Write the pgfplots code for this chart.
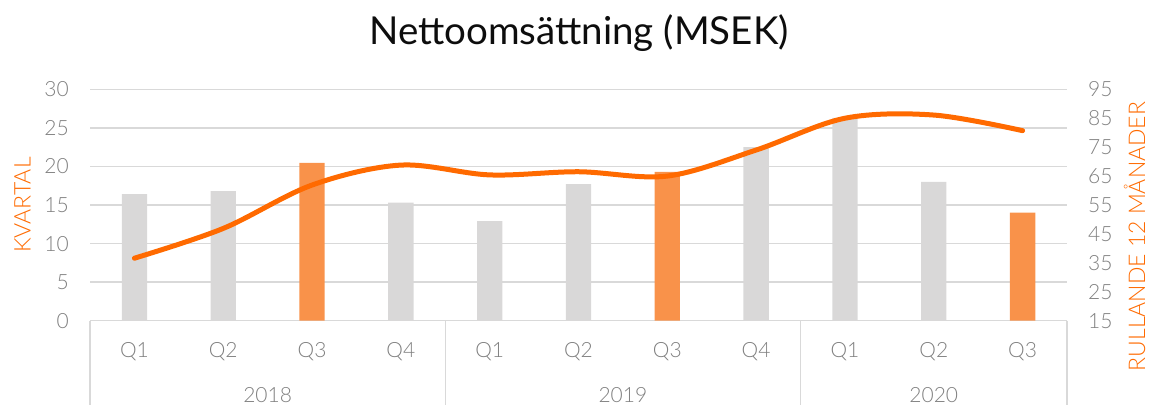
\documentclass[border=0pt]{standalone}
\usepackage{pgfplots}
\pgfplotsset{compat=1.18}
\usepackage{fontspec}
\setmainfont{Lato}
\newfontfamily\lightfont{Lato Light}
\definecolor{gridgrey}{HTML}{D9D9D9}
\definecolor{bargrey}{HTML}{D9D8D8}
\definecolor{barorange}{HTML}{F9924A}
\definecolor{lineorange}{HTML}{FF6A00}
\definecolor{ticktext}{HTML}{7F7F7F}
\begin{document}
\begin{tikzpicture}
\useasboundingbox (0,0) rectangle (1149pt,405pt);
\begin{axis}[
  at={(90pt,84.3pt)}, anchor=south west,
  scale only axis, width=977pt, height=231.4pt,
  xmin=-0.5, xmax=10.5, ymin=0, ymax=30,
  ytick={0,5,10,15,20,25,30},
  xtick={0,1,2,3,4,5,6,7,8,9,10},
  xticklabels={Q1,Q2,Q3,Q4,Q1,Q2,Q3,Q4,Q1,Q2,Q3},
  major tick length=0pt,
  ymajorgrids, grid style={gridgrey, line width=1.4pt},
  axis x line*=bottom, axis y line*=left,
  x axis line style={gridgrey, line width=1.4pt, -},
  y axis line style={draw=none},
  /pgf/number format/assume math mode=true,
  tick label style={font=\lightfont\fontsize{21}{21}\selectfont, text=ticktext},
  yticklabel style={anchor=east, inner sep=0pt, xshift=-21pt},
  xticklabel style={anchor=center, inner sep=0pt, yshift=-31pt},
  ybar, bar width=25.3pt, bar shift=0pt,
  clip=false,
]
\addplot[fill=bargrey, draw=none] coordinates {(0,16.4) (1,16.8) (3,15.3) (4,12.9) (5,17.7) (7,22.5) (8,26.3) (9,18.0)};
\addplot[fill=barorange, draw=none] coordinates {(2,20.45) (6,19.3) (10,14.0)};
\foreach \s in {-0.5,3.5,7.5,10.5} {
  \edef\tmp{\noexpand\draw[gridgrey, line width=1.4pt] (axis cs:\s,0) -- ([yshift=-84.3pt]axis cs:\s,0);}
  \tmp
}
\node[font=\lightfont\fontsize{21}{21}\selectfont, text=ticktext] at ([yshift=-74.3pt]axis cs:1.5,0) {2018};
\node[font=\lightfont\fontsize{21}{21}\selectfont, text=ticktext] at ([yshift=-74.3pt]axis cs:5.5,0) {2019};
\node[font=\lightfont\fontsize{21}{21}\selectfont, text=ticktext] at ([yshift=-74.3pt]axis cs:9,0) {2020};
\end{axis}
\begin{axis}[
  at={(90pt,84.3pt)}, anchor=south west,
  scale only axis, width=977pt, height=231.4pt,
  xmin=-0.5, xmax=10.5, ymin=15, ymax=95,
  ytick={15,25,35,45,55,65,75,85,95},
  axis x line=none, axis y line*=right,
  y axis line style={draw=none},
  major tick length=0pt,
  /pgf/number format/assume math mode=true,
  tick label style={font=\lightfont\fontsize{21}{21}\selectfont, text=ticktext},
  yticklabel style={anchor=west, inner sep=0pt, xshift=21pt},
  clip=false,
]
\addplot[lineorange, line width=5pt, line cap=round, smooth, tension=0.55] coordinates {
(0,36.6) (1,46.9) (2,61.9) (3,68.8) (4,65.4) (5,66.5) (6,65.0) (7,74.0) (8,85.0) (9,86.1) (10,80.7)};
\end{axis}
\node[anchor=base, font=\fontsize{38.5}{38.5}\selectfont, text=black!95] at (579pt,360pt) {Nettoomsättning (MSEK)};
\node[anchor=base, rotate=90, font=\lightfont\fontsize{23}{23}\selectfont, text=lineorange] at (30.7pt,200pt) {KVARTAL};
\node[anchor=base, rotate=90, font=\lightfont\fontsize{23}{23}\selectfont, text=lineorange] at (1145pt,168.5pt) {RULLANDE 12 MÅNADER};
\end{tikzpicture}
\end{document}
